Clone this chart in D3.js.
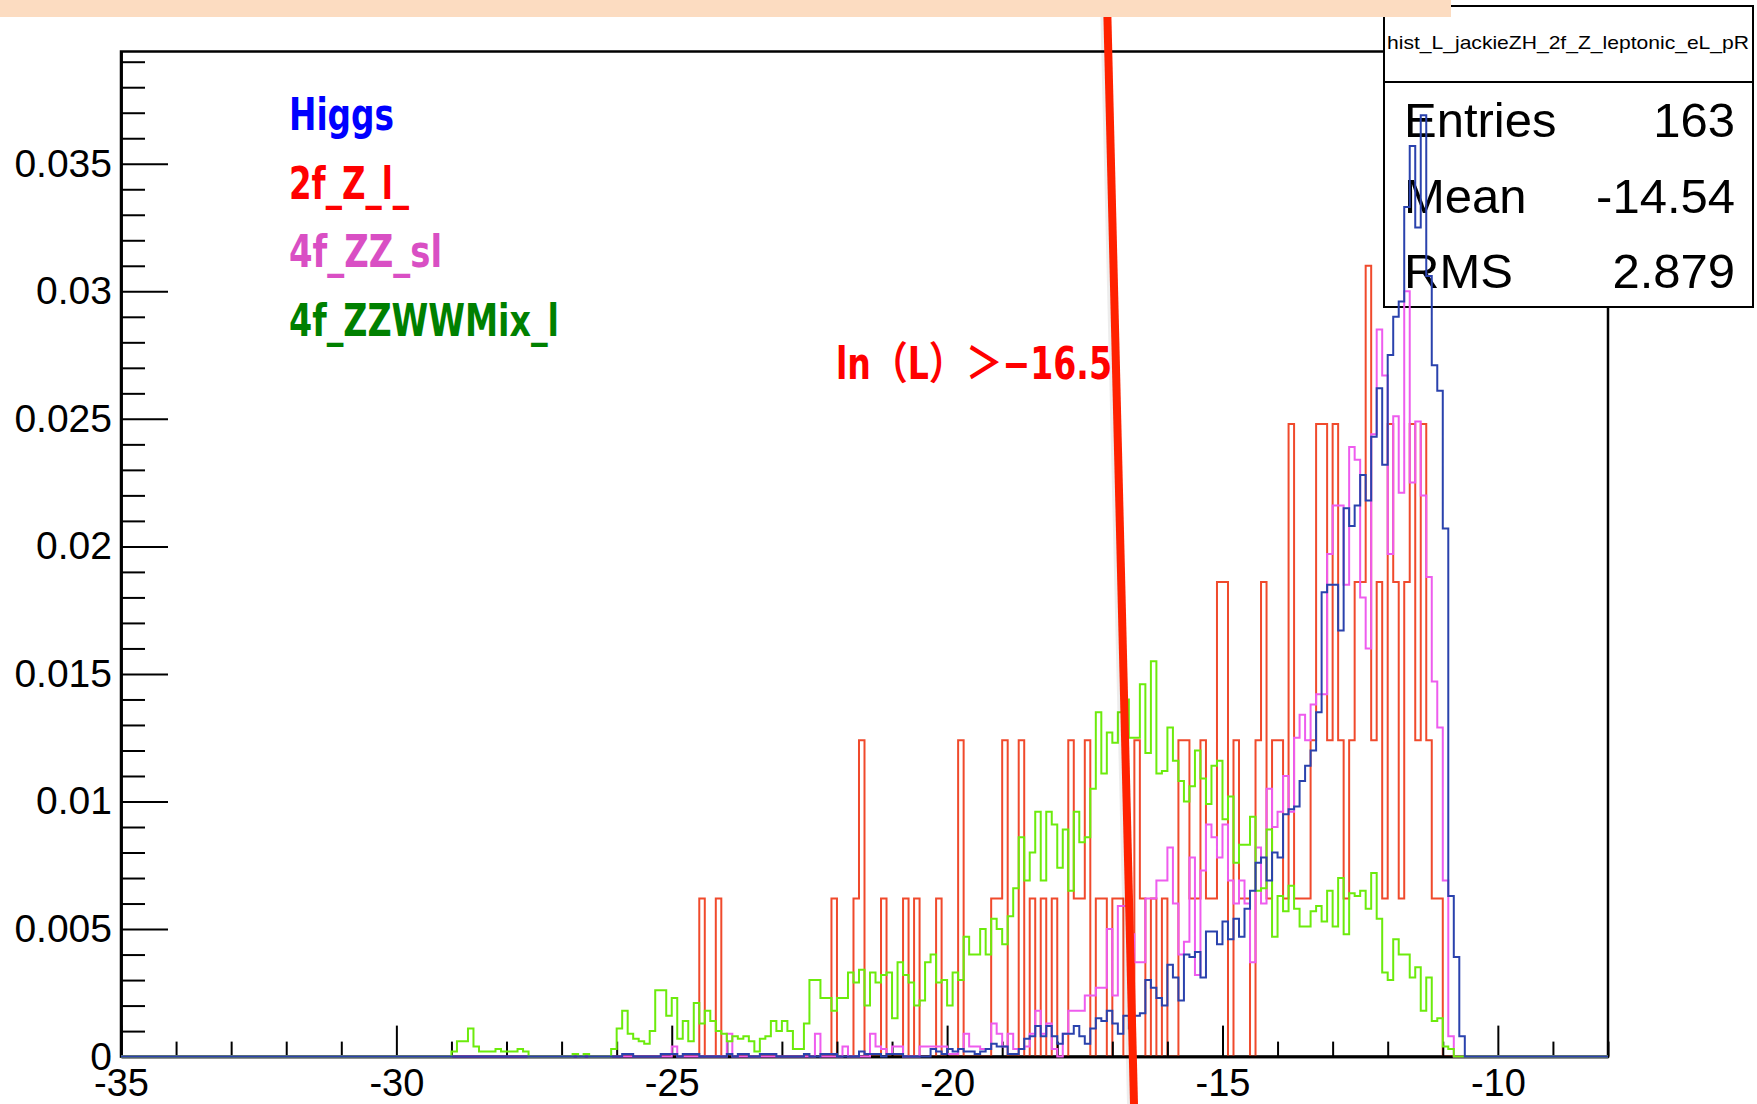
<!DOCTYPE html>
<html>
<head>
<meta charset="utf-8">
<script src="https://cdn.jsdelivr.net/npm/d3@7"></script>
<style>
  body { margin: 0; background: #fff; }
  svg { display: block; }
</style>
</head>
<body>
<svg id="chart" width="1757" height="1104"></svg>
<script>
// bins are 0.1 wide, histogram range -35 .. -8
const binWidth = 0.1;
const xMin = -35, xMax = -8;

// Higgs, bins from -26.0
const higgsStart = -26.0;
const higgs = [
  0,0.0001,0.0001,0,0,0,0,0,0.0001,0.0001,
  0.0001,0,0.0001,0.0001,0.0001,0,0,0,0,0,
  0.0001,0,0.0001,0.0001,0,0,0.0001,0.0001,0.0001,0,
  0,0,0,0,0.0001,0,0,0.0001,0.0001,0.0001,
  0,0,0,0,0.0002,0.0001,0.0001,0.0001,0,0.0001,
  0.0001,0.0001,0,0,0,0,0,0.0003,0.0002,0.0001,
  0.0003,0.0002,0.0003,0.0002,0.0002,0.0001,0.0002,0.0003,0.0005,0.0004,
  0.0004,0.0001,0.0001,0.0003,0.0007,0.0008,0.0012,0.0008,0.0012,0.0008,
  0.0005,0.0009,0.0009,0.0012,0.0008,0.0005,0.0011,0.0015,0.0014,0.0018,
  0.0013,0.0009,0.0016,0.0011,0.0016,0.0017,0.003,0.0027,0.0023,0.002,
  0.0036,0.0031,0.0022,0.004,0.0039,0.0041,0.0031,0.0049,0.0049,0.0044,
  0.0053,0.0046,0.0054,0.0047,0.0058,0.0065,0.0076,0.0078,0.0069,0.008,
  0.0078,0.0095,0.0097,0.0098,0.0108,0.0114,0.012,0.0135,0.0182,0.0185,
  0.0185,0.0167,0.0215,0.0208,0.0216,0.0228,0.0218,0.0243,0.0262,0.0232,
  0.0275,0.029,0.0296,0.0333,0.0357,0.0325,0.0369,0.0306,0.0271,0.0261,
  0.0207,0.0063,0.0039,0.0008
];

// 2f_Z_l_, only filled bins: [low edge, value]
const zlBins = [
  [-24.5,0.0062],[-24.2,0.0062],[-22.1,0.0062],[-21.7,0.0062],[-21.6,0.0124],
  [-21.2,0.0062],[-20.8,0.0062],[-20.6,0.0062],[-20.2,0.0062],[-19.8,0.0124],
  [-19.2,0.0062],[-19.1,0.0062],[-19.0,0.0124],[-18.7,0.0124],[-18.5,0.0062],
  [-18.3,0.0062],[-18.1,0.0062],[-17.8,0.0124],[-17.7,0.0062],[-17.6,0.0062],
  [-17.5,0.0124],[-17.3,0.0062],[-17.2,0.0062],[-17.0,0.0062],[-16.9,0.0062],
  [-16.6,0.0124],[-16.5,0.0062],[-16.3,0.0062],[-16.1,0.0062],[-15.8,0.0124],
  [-15.7,0.0124],[-15.6,0.0062],[-15.5,0.0062],[-15.4,0.0124],[-15.3,0.0062],
  [-15.2,0.0062],[-15.1,0.0186],[-15.0,0.0186],[-14.8,0.0124],[-14.7,0.0062],
  [-14.6,0.0062],[-14.4,0.0124],[-14.3,0.0186],[-14.2,0.0062],[-14.1,0.0124],
  [-14.0,0.0124],[-13.9,0.0062],[-13.8,0.0248],[-13.7,0.0062],[-13.6,0.0062],
  [-13.5,0.0062],[-13.4,0.0124],[-13.3,0.0248],[-13.2,0.0248],[-13.1,0.0124],
  [-13.0,0.0248],[-12.9,0.0124],[-12.8,0.0062],[-12.7,0.0124],[-12.6,0.0186],
  [-12.5,0.0186],[-12.4,0.031],[-12.3,0.0124],[-12.2,0.0186],[-12.1,0.0062],
  [-12.0,0.0248],[-11.9,0.0186],[-11.8,0.0062],[-11.7,0.0186],[-11.6,0.0248],
  [-11.5,0.0124],[-11.4,0.0248],[-11.3,0.0124],[-11.2,0.0062],[-11.1,0.0062]
];

// 4f_ZZ_sl, bins from -25.0
const zzslStart = -25.0;
const zzsl = [
  0.0004,0,0,0,0,0,0,0,0,0,
  0.0009,0,0,0,0,0,0,0,0,0,
  0,0,0,0,0,0,0.0009,0,0,0,
  0,0.0004,0,0,0,0,0.0009,0.0004,0.0003,0.0001,
  0.0004,0.0004,0,0,0,0.0004,0.0004,0.0004,0.0004,0.0004,
  0.0001,0.0001,0.0003,0.0009,0.0004,0.0004,0.0003,0.0003,0.0013,0.0009,
  0.0004,0.0009,0.0003,0.0003,0.0004,0.0009,0.0018,0.0009,0.0013,0.0003,
  0,0.0009,0.0018,0.0018,0.0018,0.0024,0.0024,0.0027,0.0027,0.005,
  0.0024,0.0059,0.0059,0.0048,0.0037,0.0037,0.0062,0.0062,0.0069,0.0069,
  0.0082,0.006,0.004,0.0045,0.0078,0.0032,0.0073,0.0091,0.0086,0.0078,
  0.0091,0.0069,0.006,0.0069,0.006,0.0037,0.0082,0.006,0.0105,0.009,
  0.0096,0.011,0.0096,0.0125,0.0134,0.0124,0.0138,0.0142,0.0142,0.0197,
  0.0216,0.0216,0.0185,0.0239,0.0234,0.018,0.016,0.0244,0.0285,0.0267,
  0.0197,0.0251,0.0221,0.03,0.0225,0.0249,0.022,0.0188,0.0147,0.0129,
  0.0069,0.0008
];

// 4f_ZZWWMix_l, bins from -29.0
const zzwwStart = -29.0;
const zzww = [
  0.0002,0.0006,0.0006,0.0011,0.0004,0.0002,0.0002,0.0002,0.0003,0.0002,
  0.0002,0.0002,0.0003,0.0002,0,0,0,0,0,0,
  0,0,0.0001,0,0.0001,0,0,0,0,0.0003,
  0.0011,0.0018,0.0009,0.0007,0.0006,0.0005,0.001,0.0026,0.0026,0.0016,
  0.0023,0.0007,0.0014,0.0006,0.0021,0.0013,0.0018,0.0014,0.001,0.0009,
  0.0006,0.0008,0.0007,0.0008,0.0006,0.0002,0.0007,0.0008,0.0014,0.001,
  0.0014,0.001,0.0003,0.0003,0.0013,0.003,0.003,0.0023,0.0023,0.0018,
  0.0023,0.0023,0.0033,0.0029,0.0034,0.002,0.0033,0.0029,0.0032,0.0033,
  0.0015,0.0037,0.0032,0.0029,0.002,0.0022,0.0037,0.004,0.0029,0.003,
  0.002,0.0033,0.003,0.0047,0.004,0.004,0.005,0.004,0.0054,0.005,
  0.0044,0.0055,0.0066,0.0086,0.0069,0.008,0.0096,0.0069,0.0096,0.0091,
  0.0074,0.0089,0.0065,0.0096,0.0084,0.0086,0.0105,0.0135,0.0111,0.0127,
  0.0123,0.0135,0.014,0.0125,0.0125,0.0146,0.0119,0.0155,0.0111,0.0112,
  0.0129,0.0116,0.0108,0.01,0.0106,0.012,0.0109,0.0099,0.0114,0.0116,
  0.0093,0.0102,0.0076,0.0083,0.0083,0.0094,0.0065,0.0066,0.0089,0.0047,
  0.0063,0.0057,0.0067,0.0058,0.0051,0.0051,0.0057,0.0059,0.0053,0.0065,
  0.0051,0.007,0.0048,0.0064,0.0063,0.0065,0.0058,0.0072,0.0054,0.0033,
  0.003,0.0046,0.004,0.004,0.0031,0.0035,0.0018,0.0031,0.0014,0.0015,
  0.0004,0.0003
];

const xTicks = [-35, -30, -25, -20, -15, -10];
const xMinor = d3.range(-34, -7, 1).filter(v => v % 5 !== 0);
const yTicks = [0, 0.005, 0.01, 0.015, 0.02, 0.025, 0.03, 0.035];
const yTickLabels = ["0", "0.005", "0.01", "0.015", "0.02", "0.025", "0.03", "0.035"];
const yMinor = d3.range(1, 40).map(i => i / 1000).filter((v, i) => (i + 1) % 5 !== 0);

const statsTitle = "hist_L_jackieZH_2f_Z_leptonic_eL_pR";
const statsRows = [["Entries", "163"], ["Mean", "-14.54"], ["RMS", "2.879"]];

const legendNames = ["Higgs", "2f_Z_l_", "4f_ZZ_sl", "4f_ZZWWMix_l"];
const legendColors = ["#0000ff", "#ff0000", "#d94fc4", "#008000"];
const legendWidths = [105, 120, 153, 270];

const cutValue = "ln（L）＞−16.5";

const svg = d3.select("#chart");
const frame = { left: 121, right: 1608, top: 51.5, bottom: 1056.6 };
const slideFont = "'Liberation Sans Narrow', 'DejaVu Sans Condensed', 'Noto Sans CJK JP', sans-serif";

const x = d3.scaleLinear().domain([xMin, xMax]).range([frame.left, frame.right]);
const y = d3.scaleLinear().domain([0, 0.0394]).range([frame.bottom, frame.top]);

const nBins = Math.round((xMax - xMin) / binWidth);

function fullBins(start, values) {
  const out = new Array(nBins).fill(0);
  const off = Math.round((start - xMin) / binWidth);
  values.forEach((v, i) => { out[off + i] = v; });
  return out;
}
function sparseBins(list) {
  const out = new Array(nBins).fill(0);
  list.forEach(([lo, v]) => { out[Math.round((lo - xMin) / binWidth)] = v; });
  return out;
}
function steps(bins) {
  const pts = [[xMin, 0]];
  bins.forEach((v, i) => {
    const lo = xMin + i * binWidth;
    pts.push([lo, v], [lo + binWidth, v]);
  });
  pts.push([xMax, 0]);
  return pts;
}
const line = d3.line().x(d => x(d[0])).y(d => y(d[1]));

function drawHist(bins, color) {
  svg.append("path")
    .attr("d", line(steps(bins)))
    .attr("fill", "none")
    .attr("stroke", color)
    .attr("stroke-width", 2)
    .attr("stroke-linejoin", "miter");
}

// frame
svg.append("rect")
  .attr("x", frame.left).attr("y", frame.top)
  .attr("width", frame.right - frame.left).attr("height", frame.bottom - frame.top)
  .attr("fill", "none").attr("stroke", "#000").attr("stroke-width", 2.5);

// first histogram, then axes on top of it
drawHist(sparseBins(zlBins), "#f04a2c");

const yAxis = d3.axisLeft(y).tickValues(yTicks)
  .tickFormat((d, i) => yTickLabels[i]).tickSize(-47).tickSizeOuter(0).tickPadding(9);
const yAxisMinor = d3.axisLeft(y).tickValues(yMinor).tickFormat("").tickSize(-24).tickSizeOuter(0);
const xAxis = d3.axisBottom(x).tickValues(xTicks).tickFormat(d => String(d))
  .tickSize(-31).tickSizeOuter(0).tickPadding(12);
const xAxisMinor = d3.axisBottom(x).tickValues(xMinor).tickFormat("").tickSize(-15).tickSizeOuter(0);

function styleAxis(g, size) {
  g.selectAll("line").attr("stroke", "#000").attr("stroke-width", 2);
  g.select(".domain").attr("stroke", "#000").attr("stroke-width", 2.5);
  g.selectAll("text").attr("fill", "#000")
    .style("font-family", "'Liberation Sans', Arial, sans-serif").style("font-size", size + "px");
}
svg.append("g").attr("transform", `translate(${frame.left},0)`).call(yAxisMinor).call(g => styleAxis(g, 39));
svg.append("g").attr("transform", `translate(${frame.left},0)`).call(yAxis).call(g => styleAxis(g, 39));
svg.append("g").attr("transform", `translate(0,${frame.bottom})`).call(xAxisMinor).call(g => styleAxis(g, 38));
svg.append("g").attr("transform", `translate(0,${frame.bottom})`).call(xAxis).call(g => styleAxis(g, 38));

// stats box
const box = { x: 1384, y: 6, w: 369, h: 301, sep: 82 };
const stats = svg.append("g");
stats.append("rect").attr("x", box.x).attr("y", box.y).attr("width", box.w).attr("height", box.h)
  .attr("fill", "#fff").attr("stroke", "#000").attr("stroke-width", 2);
stats.append("line").attr("x1", box.x).attr("x2", box.x + box.w).attr("y1", box.sep).attr("y2", box.sep)
  .attr("stroke", "#000").attr("stroke-width", 2);
stats.append("text").attr("x", box.x + 3).attr("y", 49)
  .attr("textLength", 362).attr("lengthAdjust", "spacingAndGlyphs")
  .style("font-family", "'Liberation Sans Narrow', 'Liberation Sans', Arial, sans-serif")
  .style("font-size", "19px").attr("fill", "#000").text(statsTitle);
statsRows.forEach((r, i) => {
  const by = 137 + i * 75.5;
  stats.append("text").attr("x", 1404).attr("y", by)
    .style("font-family", "'Liberation Sans', Arial, sans-serif").style("font-size", "49px")
    .attr("fill", "#000").text(r[0]);
  stats.append("text").attr("x", 1735).attr("y", by).attr("text-anchor", "end")
    .style("font-family", "'Liberation Sans', Arial, sans-serif").style("font-size", "49px")
    .attr("fill", "#000").text(r[1]);
});

// other histograms drawn over the stats box
drawHist(fullBins(zzslStart, zzsl), "#ee5cee");
drawHist(fullBins(zzwwStart, zzww), "#6ceb0c");
drawHist(fullBins(higgsStart, higgs), "#2a42ad");

// legend
legendNames.forEach((name, i) => {
  svg.append("text").attr("x", 289).attr("y", 130 + i * 68.5)
    .attr("textLength", legendWidths[i]).attr("lengthAdjust", "spacingAndGlyphs")
    .style("font-family", slideFont)
    .style("font-size", "45px").style("font-weight", 700)
    .attr("fill", legendColors[i]).text(name);
});

// cut annotation
svg.append("text").attr("x", 836).attr("y", 379)
  .attr("textLength", 276).attr("lengthAdjust", "spacingAndGlyphs")
  .style("font-family", slideFont)
  .style("font-size", "44px").style("font-weight", 700)
  .attr("fill", "#ff0000").text(cutValue);

svg.append("line").attr("x1", 1105).attr("y1", 0).attr("x2", 1132).attr("y2", 1104)
  .attr("stroke", "#000").attr("stroke-opacity", 0.07).attr("stroke-width", 10);
svg.append("line").attr("x1", 1107).attr("y1", 0).attr("x2", 1134).attr("y2", 1104)
  .attr("stroke", "#ff2200").attr("stroke-width", 8);

// slide banner at the top
svg.append("rect").attr("x", 0).attr("y", 0).attr("width", 1451).attr("height", 17)
  .attr("fill", "#fcdcc1");
</script>
</body>
</html>
